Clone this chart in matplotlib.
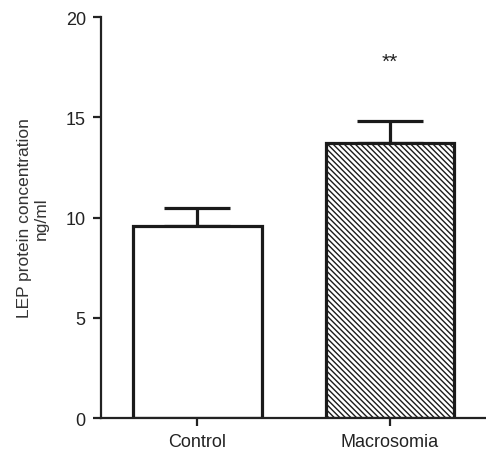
import matplotlib
matplotlib.use("Agg")
import matplotlib.pyplot as plt

plt.rcParams['font.family'] = ['Liberation Sans', 'DejaVu Sans']
plt.rcParams['hatch.linewidth'] = 1.0

groups = ['Control', 'Macrosomia']
means = [9.6, 13.7]
sems = [0.9, 1.1]
hatches = ['', '\\\\\\\\\\\\']
signif = ['', '**']

fig = plt.figure(figsize=(4.86, 4.52), dpi=100)
ax = fig.add_axes([0.208, 0.073, 0.792, 0.887])

x = list(range(len(groups)))
for i in x:
    ax.bar(i, means[i], width=0.667, color='white', edgecolor='#1a1a1a',
           linewidth=2.3, hatch=hatches[i], zorder=2)
    ax.errorbar(i, means[i], yerr=[[0], [sems[i]]], fmt='none',
                ecolor='#1a1a1a', elinewidth=2.3, capsize=24, capthick=2.3, zorder=1)
    if signif[i]:
        ax.text(i, means[i] + sems[i] + 3.0, signif[i], ha='center', va='center',
                fontsize=15, color='#222222')

ax.set_xlim(-0.5, 1.5)
ax.set_ylim(0, 20)
ax.set_yticks([0, 5, 10, 15, 20])
ax.set_xticks(x)
ax.set_xticklabels(groups)
ax.set_ylabel('LEP protein concentration\nng/ml', fontsize=12.5, color='#333333', labelpad=12)

for s in ['top', 'right']:
    ax.spines[s].set_visible(False)
for s in ['left', 'bottom']:
    ax.spines[s].set_linewidth(1.6)
    ax.spines[s].set_color('#222222')
ax.tick_params(width=1.6, length=6, labelsize=13, colors='#222222', pad=5)

fig.savefig('out.png', dpi=100)
